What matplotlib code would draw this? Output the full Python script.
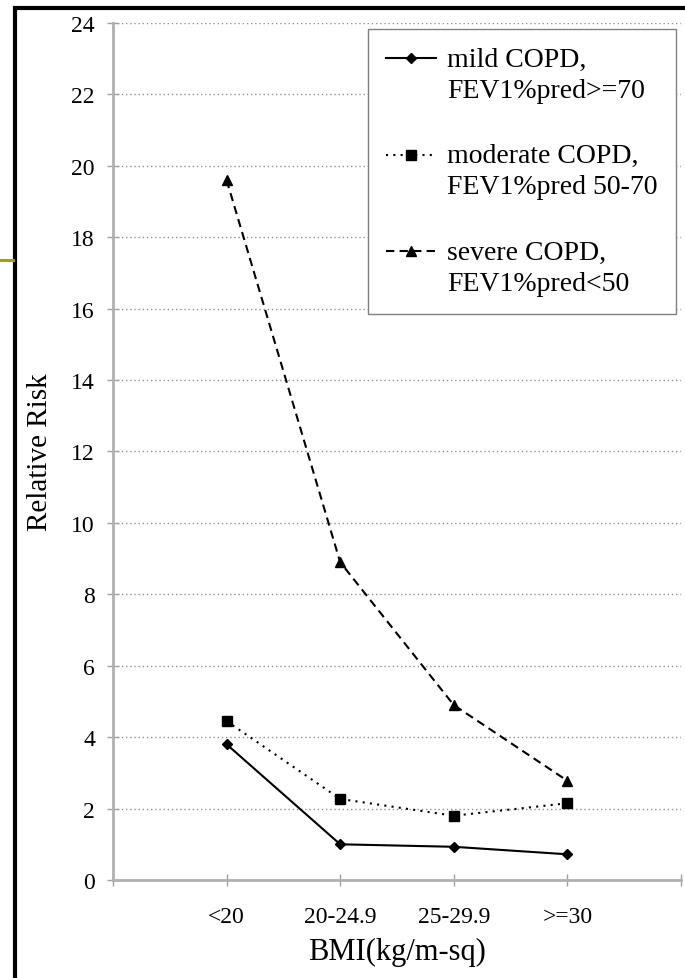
import numpy as np
import matplotlib.pyplot as plt
from matplotlib.legend_handler import HandlerLine2D
from matplotlib.lines import Line2D
from matplotlib.patches import Rectangle

plt.rcParams['font.family'] = ['Liberation Serif', 'DejaVu Serif']

# values
bmi_groups = ['<20', '20-24.9', '25-29.9', '>=30']
mild = [3.8, 1.0, 0.93, 0.72]
moderate = [4.45, 2.27, 1.8, 2.15]
severe = [19.6, 8.9, 4.9, 2.78]
series_labels = ['mild COPD,\nFEV1%pred>=70',
                 'moderate COPD,\nFEV1%pred 50-70',
                 'severe COPD,\nFEV1%pred<50']
y_ticks = np.arange(0, 25, 2)


class TopLineHandler(HandlerLine2D):
    # put the legend sample next to the first text line, not the last
    def create_artists(self, legend, orig_handle, xdescent, ydescent,
                       width, height, fontsize, trans):
        arts = super().create_artists(legend, orig_handle, xdescent, ydescent,
                                      width, height, fontsize, trans)
        for a in arts:
            a.set_ydata(np.asarray(a.get_ydata()) + 0.6 * fontsize)
        return arts


fig = plt.figure(figsize=(6.85, 9.79), dpi=100)
ax = fig.add_axes([0.165, 0.1001, 0.829, 0.8754])

x = np.arange(1, len(bmi_groups) + 1)
ax.plot(x, mild, color='black', lw=1.5, marker='D', ms=5, label=series_labels[0])
ax.plot(x, moderate, color='black', lw=1.5, ls=(0, (1, 2.5)), marker='s', ms=7,
        label=series_labels[1])
ax.plot(x, severe, color='black', lw=1.5, ls=(0, (4, 2.5)), marker='^', ms=7,
        label=series_labels[2])

ax.set_xlim(0, 5)
ax.set_ylim(0, 24)
ax.set_xticks(range(len(bmi_groups) + 2))
ax.set_xticklabels([''] + bmi_groups + [''])
ax.set_yticks(y_ticks)
ax.tick_params(axis='both', direction='inout', length=8, width=1,
               color='#a0a0a0', labelsize=17)
ax.tick_params(axis='x', pad=15)
ax.tick_params(axis='y', pad=9)
ax.yaxis.grid(True, ls=(0, (1, 2)), color='#909090', lw=1)

for s in ['top', 'right']:
    ax.spines[s].set_visible(False)
for s in ['left', 'bottom']:
    ax.spines[s].set_color('#b0b0b0')
    ax.spines[s].set_linewidth(2)

ax.set_xlabel('BMI(kg/m-sq)', fontsize=22)
ax.set_ylabel('Relative Risk', fontsize=21)
ax.xaxis.set_label_coords(0.5, -0.066)
ax.yaxis.set_label_coords(-0.105, 0.5)

leg = ax.legend(handler_map={Line2D: TopLineHandler()}, loc='upper right',
                bbox_to_anchor=(0.991, 0.993), borderaxespad=0, fontsize=20,
                fancybox=False, edgecolor='#808080', framealpha=1,
                labelspacing=1.45, handlelength=1.8, handletextpad=0.4,
                borderpad=0.65)
leg.get_frame().set_linewidth(1)
for t in leg.get_texts():
    t.set_linespacing(1.32)

# slide frame around the picture
fig.add_artist(Rectangle((15 / 685, -0.1), 1.2, 1.1 - 9 / 979, fill=False,
                         edgecolor='black', lw=3))
fig.add_artist(Line2D([0, 13 / 685], [1 - 261 / 979] * 2, color='#a8a000', lw=2.2))

fig.savefig('out.png', dpi=100)
